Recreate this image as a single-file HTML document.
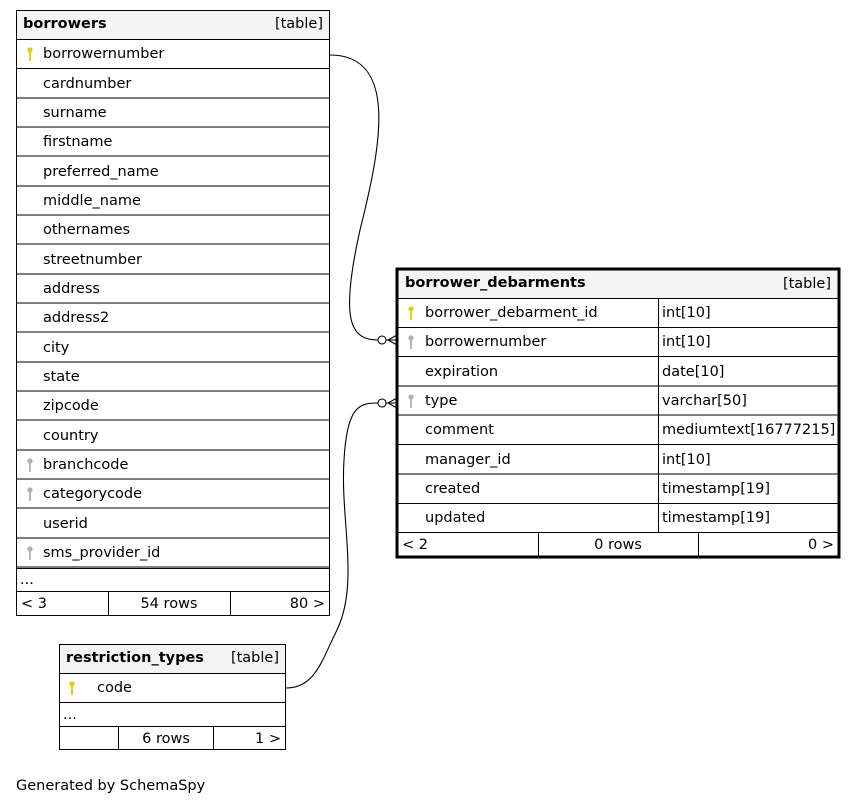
<!DOCTYPE html>
<html><head><meta charset="utf-8"><style>
html,body{margin:0;padding:0;background:#fff;width:857px;height:805px;overflow:hidden}
text{font-family:"DejaVu Sans","Liberation Sans",sans-serif;font-size:14.5px;fill:#000}
.b{font-weight:bold}
</style></head><body>
<svg width="857" height="805" xmlns="http://www.w3.org/2000/svg">
<defs>
<g id="ky"><circle cx="0" cy="-3" r="2.6" fill="currentColor"/><rect x="-0.9" y="-2" width="1.8" height="10" fill="currentColor"/></g>
</defs>
<!-- borrowers -->
<rect x="16.5" y="10.5" width="313" height="29" fill="#f4f4f4" stroke="#000"/>
<text x="23" y="28" class="b">borrowers</text>
<text x="323" y="28" text-anchor="end">[table]</text>
<g stroke="#000" fill="none">
<rect x="16.5" y="39.5" width="313" height="576"/>
<path d="M16 68.5H330M16 98H330M16 127H330M16 156H330M16 186H330M16 215H330M16 244H330M16 274H330M16 303H330M16 332H330M16 362H330M16 391H330M16 420H330M16 450H330M16 479H330M16 508H330M16 538H330M16 567H330M16 568.5H330M16 591.5H330M108.5 591V615M230.5 591V615"/>
</g>
<g>
<text x="43" y="58">borrowernumber</text>
<text x="43" y="88">cardnumber</text>
<text x="43" y="117">surname</text>
<text x="43" y="146">firstname</text>
<text x="43" y="176">preferred_name</text>
<text x="43" y="205">middle_name</text>
<text x="43" y="234">othernames</text>
<text x="43" y="264">streetnumber</text>
<text x="43" y="293">address</text>
<text x="43" y="322">address2</text>
<text x="43" y="352">city</text>
<text x="43" y="381">state</text>
<text x="43" y="410">zipcode</text>
<text x="43" y="440">country</text>
<text x="43" y="469">branchcode</text>
<text x="43" y="498">categorycode</text>
<text x="43" y="528">userid</text>
<text x="43" y="557">sms_provider_id</text>
<text x="20" y="584">...</text>
<text x="21" y="608">&lt; 3</text>
<text x="169" y="608" text-anchor="middle">54 rows</text>
<text x="325" y="608" text-anchor="end">80 &gt;</text>
</g>
<use href="#ky" x="30" y="53" style="color:#d4d400"/>
<use href="#ky" x="30" y="464" style="color:#b0b0b0"/>
<use href="#ky" x="30" y="493" style="color:#b0b0b0"/>
<use href="#ky" x="30" y="552" style="color:#b0b0b0"/>

<!-- borrower_debarments -->
<rect x="397" y="269" width="442" height="29" fill="#f4f4f4"/>
<g stroke="#000" fill="none">
<path d="M397 298.5H839M397 327.5H839M397 356.5H839M397 386H839M397 415H839M397 444.5H839M397 474H839M397 503.5H839M397 532.5H839M658.5 298V532M538.5 533V556M698.5 533V556"/>
<rect x="397" y="269" width="442" height="288" stroke-width="3"/>
</g>
<text x="405" y="287" class="b">borrower_debarments</text>
<text x="831" y="288" text-anchor="end">[table]</text>
<text x="425" y="317">borrower_debarment_id</text><text x="662" y="317">int[10]</text>
<text x="425" y="346">borrowernumber</text><text x="662" y="346">int[10]</text>
<text x="425" y="376">expiration</text><text x="662" y="376">date[10]</text>
<text x="425" y="405">type</text><text x="662" y="405">varchar[50]</text>
<text x="425" y="434">comment</text><text x="662" y="434">mediumtext[16777215]</text>
<text x="425" y="464">manager_id</text><text x="662" y="464">int[10]</text>
<text x="425" y="493">created</text><text x="662" y="493">timestamp[19]</text>
<text x="425" y="522">updated</text><text x="662" y="522">timestamp[19]</text>
<text x="402" y="549">&lt; 2</text>
<text x="618" y="549" text-anchor="middle">0 rows</text>
<text x="834" y="549" text-anchor="end">0 &gt;</text>
<use href="#ky" x="411" y="312" style="color:#d4d400"/>
<use href="#ky" x="411" y="341" style="color:#b0b0b0"/>
<use href="#ky" x="411" y="400" style="color:#b0b0b0"/>

<!-- restriction_types -->
<rect x="59.5" y="644.5" width="226" height="29" fill="#f4f4f4" stroke="#000"/>
<g stroke="#000" fill="none">
<rect x="59.5" y="673.5" width="226" height="76"/>
<path d="M59 702.5H286M59 726.5H286M118.5 726V750M213.5 726V750"/>
</g>
<text x="66" y="662" class="b">restriction_types</text>
<text x="279" y="662" text-anchor="end">[table]</text>
<text x="97" y="692">code</text>
<text x="63" y="719">...</text>
<text x="166" y="743" text-anchor="middle">6 rows</text>
<text x="281" y="743" text-anchor="end">1 &gt;</text>
<use href="#ky" x="72" y="687" style="color:#d4d400"/>

<!-- connectors -->
<g stroke="#000" fill="none" stroke-width="1.1">
<path d="M330 55C400 55 380 150 360 230C340 320 350 340 378 340"/>
<circle cx="382" cy="340" r="4" fill="#fff"/>
<path d="M386 340H397M388 340L397 335M388 340L397 345"/>
<path d="M286 688C315 688 322 660 336 632C360 585 340 520 344 460C347 405 360 403 378 403"/>
<circle cx="382" cy="403" r="4" fill="#fff"/>
<path d="M386 403H397M388 403L397 398M388 403L397 408"/>
</g>
<text x="16" y="790">Generated by SchemaSpy</text>
</svg>
</body></html>
